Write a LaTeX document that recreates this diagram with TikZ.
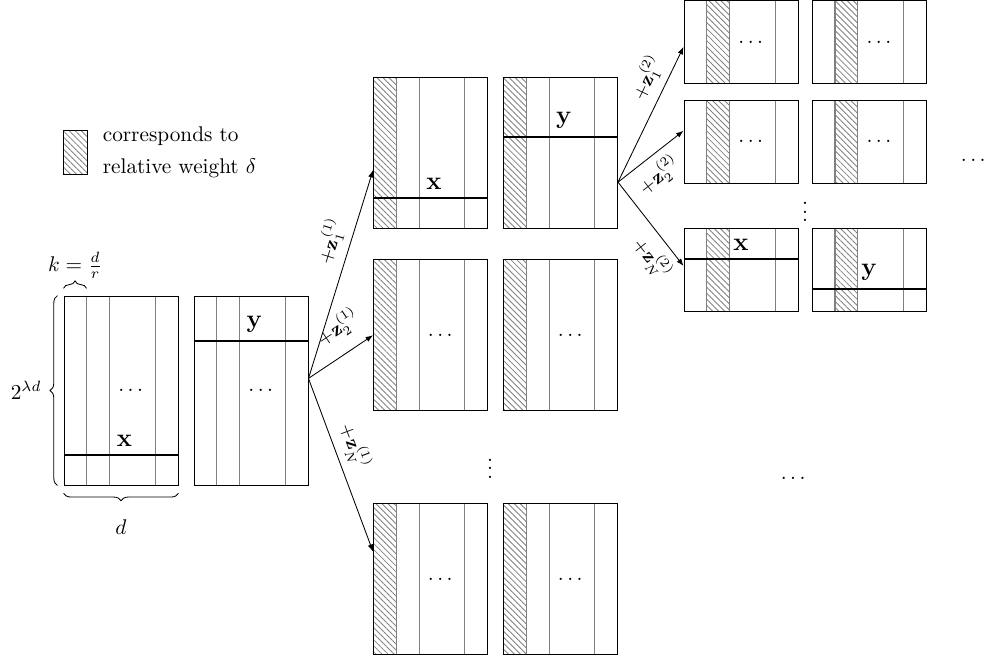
\documentclass[tikz,border=0pt]{standalone}
\usepackage{amsmath}
\usetikzlibrary{arrows.meta,positioning,calc,patterns.meta,decorations.pathreplacing}

\begin{document}
\begin{tikzpicture}[
node distance=0.25cm,
hatch/.style={pattern={Lines[angle=-45,distance=2pt,line width=0.4pt]},pattern color=gray},
blk/.style={draw,inner sep=0pt,minimum width=1.885cm,line width=0.4pt,
  path picture={
    \coordinate (sw) at (path picture bounding box.south west);
    \coordinate (se) at (path picture bounding box.south east);
    \coordinate (nw) at (path picture bounding box.north west);
    \coordinate (ne) at (path picture bounding box.north east);
    \ifnum#1>0
      \fill[hatch] ($(sw)!{(#1-1)/5}!(se)$) rectangle ($(nw)!{#1/5}!(ne)$);
    \fi
    \foreach \i in {1,2,4}
      \draw[gray,line width=0.5pt] ($(sw)!{\i/5}!(se)$) -- ($(nw)!{\i/5}!(ne)$);
  }},
blk/.default=0,
lv1/.style={blk=0,minimum height=3.124cm},
lv2/.style={blk=1,minimum height=2.496cm},
lv3/.style={blk=2,minimum height=1.372cm},
rowline/.style={line width=1pt},
lbl/.style={above,font=\large},
arr/.style={-{Latex[length=3.5pt,width=2.6pt]}},
zlbl/.style={sloped,font=\small},
brc/.style={decorate,decoration={brace,amplitude=3.5pt}}
]
\useasboundingbox (0,0) rectangle (16.38,10.86);

% legend
\node[draw,hatch,inner sep=0pt,minimum width=0.397cm,minimum height=0.728cm] (key) at (1.24,8.347) {};
\node[right=0.13cm of key,align=left] (keytxt) {corresponds to\\[3pt]relative weight $\delta$};

% first step
\node[lv1] (A) at (2.0,4.405) {};
\node[lv1,right=of A] (B) {};
\draw[rowline] ([yshift=-1.066cm]A.west) -- node[lbl,pos=0.53]{$\mathbf{x}$} ([yshift=-1.066cm]A.east);
\draw[rowline] ([yshift=0.818cm]B.west) -- node[lbl,pos=0.53]{$\mathbf{y}$} ([yshift=0.818cm]B.east);

\draw[brc] ([xshift=-0.1cm]A.south west) -- node[left=4pt]{$2^{\lambda d}$} ([xshift=-0.1cm]A.north west);
\draw[brc] ([yshift=0.12cm]A.north west) -- node[above=1pt]{$k=\frac{d}{r}$} ($(A.north west)!0.2!(A.north east)+(0,0.12)$);
\draw[brc] ([yshift=-0.13cm]A.south east) -- node[below=9pt]{$d$} ([yshift=-0.13cm]A.south west);

% second step
\node[lv2] (C11) at (7.116,8.339) {};
\node[lv2,right=of C11] (C12) {};
\node[lv2,below=0.51cm of C11] (C21) {};
\node[lv2,right=of C21] (C22) {};
\node[lv2,below=1.52cm of C21] (C31) {};
\node[lv2,right=of C31] (C32) {};
\draw[rowline] ([yshift=-0.752cm]C11.west) -- node[lbl,pos=0.53]{$\mathbf{x}$} ([yshift=-0.752cm]C11.east);
\draw[rowline] ([yshift=0.256cm]C12.west) -- node[lbl,pos=0.53]{$\mathbf{y}$} ([yshift=0.256cm]C12.east);
\node (vd1) at (8.1,3.22) {$\vdots$};

% third step
\node[lv3] (D11) at (12.248,10.165) {};
\node[lv3,right=0.22cm of D11] (D12) {};
\node[lv3,below=0.26cm of D11] (D21) {};
\node[lv3,right=0.22cm of D21] (D22) {};
\node[lv3,below=0.74cm of D21] (D31) {};
\node[lv3,right=0.22cm of D31] (D32) {};
\draw[rowline] ([yshift=0.19cm]D31.west) -- node[lbl]{$\mathbf{x}$} ([yshift=0.19cm]D31.east);
\draw[rowline] ([yshift=-0.306cm]D32.west) -- node[lbl]{$\mathbf{y}$} ([yshift=-0.306cm]D32.east);
\node (vd2) at ($(D21.south east)!0.5!(D32.north west)$) {$\vdots$};
\node (hd1) at (16.116,8.215) {$\dots$};
\node (hd2) at (13.14,2.959) {$\dots$};

\foreach \n in {A,B,C21,C22,C31,C32,D11,D12,D21,D22}
  \node (\n-d) at ([xshift=0.19cm]\n.center) {$\dots$};

% arrows
\coordinate (o1) at ([yshift=0.2cm]B.east);
\draw[arr] (o1) -- node[zlbl,pos=0.63,above]{$+\mathbf{z}_1^{(1)}$} ([yshift=-0.29cm]C11.west);
\draw[arr] (o1) -- node[zlbl,pos=0.68,above=3pt]{$+\mathbf{z}_2^{(1)}$} (C21.west);
\draw[arr] (o1) -- node[zlbl,pos=0.43,above]{$+\mathbf{z}_N^{(1)}$} ([yshift=0.45cm]C31.west);

\coordinate (o2) at ([yshift=-0.49cm]C12.east);
\draw[arr] (o2) -- node[zlbl,pos=0.71,above]{$+\mathbf{z}_1^{(2)}$} ([yshift=-0.08cm]D11.west);
\draw[arr] (o2) -- node[zlbl,pos=0.44,below]{$+\mathbf{z}_2^{(2)}$} ([yshift=0.18cm]D21.west);
\draw[arr] (o2) -- node[zlbl,pos=0.76,below]{$+\mathbf{z}_N^{(2)}$} ([yshift=0.07cm]D31.west);
\end{tikzpicture}
\end{document}
